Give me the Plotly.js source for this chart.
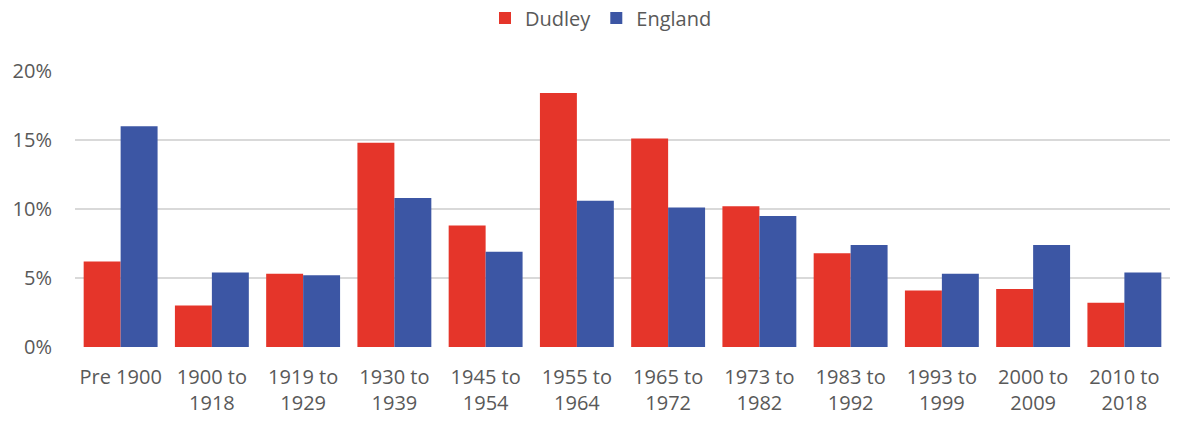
<!DOCTYPE html>
<html><head><meta charset="utf-8">
<script src="https://cdn.plot.ly/plotly-3.0.1.min.js"></script>
<style>html,body{margin:0;padding:0;background:#fff}#chart{width:1178px;height:421px}</style>
</head><body><div id="chart"></div>
<script>
const categories = ["Pre 1900","1900 to<br>1918","1919 to<br>1929","1930 to<br>1939","1945 to<br>1954","1955 to<br>1964","1965 to<br>1972","1973 to<br>1982","1983 to<br>1992","1993 to<br>1999","2000 to<br>2009","2010 to<br>2018"];
const dudley = [0.062,0.030,0.053,0.148,0.088,0.184,0.151,0.102,0.068,0.041,0.042,0.032];
const england = [0.160,0.054,0.052,0.108,0.069,0.106,0.101,0.095,0.074,0.053,0.074,0.054];
const tickVals = [0,0.05,0.10,0.15,0.20];
const tickText = ["0%","5%","10%","15%","20%"];

const font = {family:"Open Sans, Lato, sans-serif", size:20, color:"#595959"};
const data = [
  {type:"bar", name:"Dudley", x:categories, y:dudley, marker:{color:"#E5352A"}},
  {type:"bar", name:"England", x:categories, y:england, marker:{color:"#3C56A4"}}
];
const layout = {
  width:1178, height:421,
  margin:{l:75, r:8, t:71, b:74},
  paper_bgcolor:"#fff", plot_bgcolor:"#fff",
  font:font,
  barmode:"group", bargap:0.19, bargroupgap:0,
  showlegend:true,
  legend:{orientation:"h", x:0.5+12/1178, xanchor:"center", xref:"container", y:1-18/421, yanchor:"middle", yref:"container", font:font, itemwidth:30, traceorder:"normal"},
  xaxis:{type:"category", showgrid:false, zeroline:false, showline:false, ticks:"", tickfont:font, ticklabelstandoff:16, automargin:false, fixedrange:true},
  yaxis:{range:[0,0.2], tickvals:tickVals, ticktext:tickText, showgrid:true, gridcolor:"#D9D9D9", gridwidth:1.3, zeroline:false, showline:false, ticks:"", tickfont:font, ticklabelstandoff:22, automargin:false, fixedrange:true}
};
Plotly.newPlot("chart", data, layout, {displayModeBar:false, staticPlot:true});
</script></body></html>
